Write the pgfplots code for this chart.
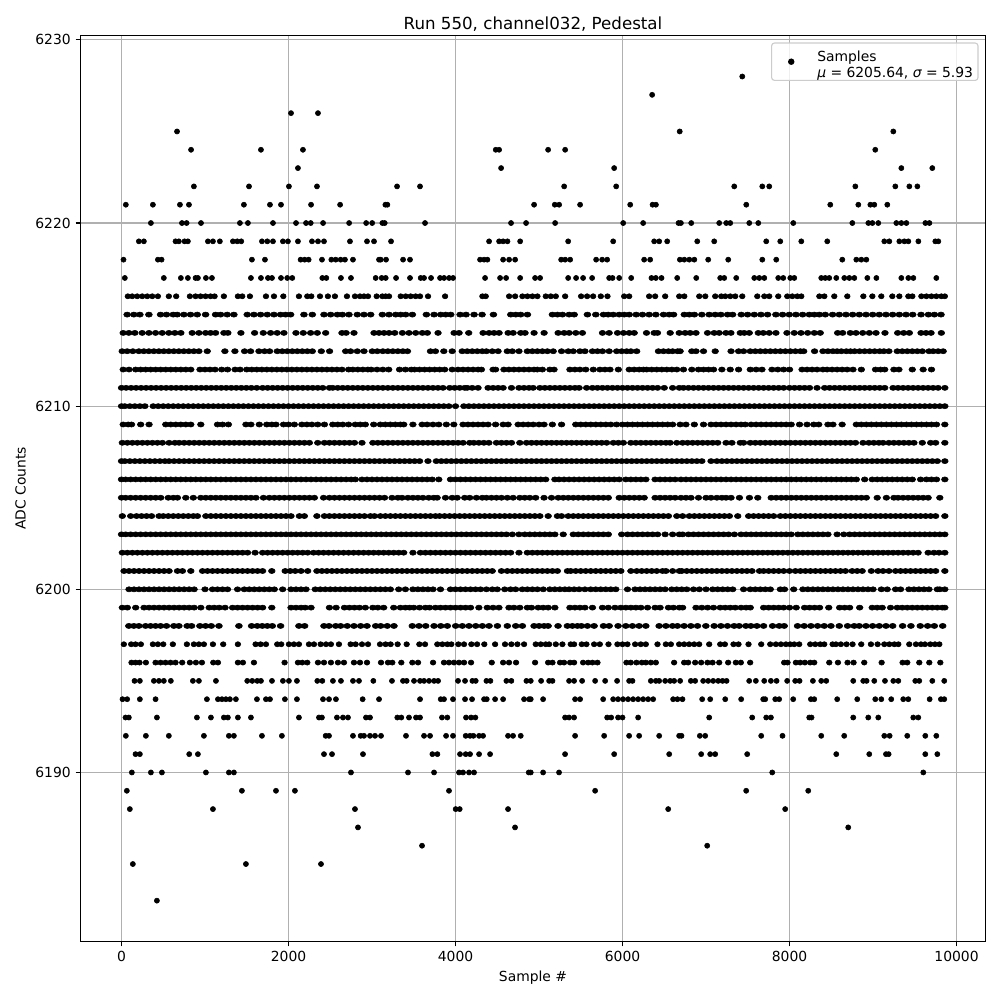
\documentclass[border=0pt]{standalone}
\usepackage{fontspec}
\setmainfont{DejaVu Sans}
\usepackage{pgfplots}
\pgfplotsset{compat=1.18}

\definecolor{gridgray}{HTML}{B0B0B0}
\definecolor{legendgray}{HTML}{CCCCCC}

% one row of samples at one ADC value: \samples[mark stretch]{adc}{sample numbers}
\newcommand{\samples}[3][1]{%
  \def\pts{}%
  \foreach \s in {#3}{\xdef\pts{\pts(\s,#2)}}%
  \edef\next{\noexpand\addplot[forget plot,only marks,mark=*,mark size=1.85pt,black,mark options={xscale=#1}] coordinates {\pts};}%
  \next}

\begin{document}
\begin{tikzpicture}
\path[use as bounding box] (-57.96pt,-42.12pt) rectangle (662.04pt,677.88pt);
\begin{axis}[
    scale only axis,
    width=651.6pt, height=652.32pt,
    xmin=-491, xmax=10347, ymin=6180.77, ymax=6230.24,
    xtick={0,2000,4000,6000,8000,10000},
    ytick={6190,6200,6210,6220,6230},
    scaled ticks=false,
    tick align=outside, tick pos=left,
    major tick length=3.5pt,
    tick style={black, line width=0.8pt},
    axis line style={black, line width=0.8pt},
    grid=major,
    grid style={gridgray, line width=0.8pt},
    /pgf/number format/assume math mode=true,
    /pgf/number format/1000 sep={},
    ticklabel style={font=\fontsize{10}{12}\selectfont},
    title={Run 550, channel032, Pedestal},
    title style={font=\fontsize{12}{14}\selectfont, yshift=-6.5pt},
    xlabel={Sample \#},
    ylabel={ADC Counts},
    label style={font=\fontsize{10}{12}\selectfont},
    legend cell align=left,
    legend style={at={(0.9923,0.9923)}, anchor=north east, draw=legendgray, rounded corners=2pt,
        fill=white, fill opacity=0.8, text opacity=1, line width=0.8pt,
        font=\fontsize{10}{12}\selectfont, inner xsep=3pt, inner ysep=5.2pt},
]
\addplot[only marks,mark=*,mark size=1.85pt,black,
    legend image code/.code={\path (-10.7pt,0pt) (16.34pt,0pt); \fill[black,fill opacity=1] (0pt,0pt) circle (1.9pt);}]
    coordinates {(7434,6228)};
\addlegendentry{\raisebox{-1pt}[11pt][11pt]{\begin{tabular}{@{}l@{\hspace{-1.44pt}}}Samples\\{\itshape μ} = 6205.64, {\itshape σ} = 5.93\end{tabular}}}

\samples{6227}{6355}
\samples{6226}{2030,2353}
\samples{6225}{665,6685,9243}
\samples{6224}{833,1670,2173,4482,4522,5109,5313,9027}
\samples{6223}{2113,4546,5900,9339,9710}
\samples{6222}{867,1527,2005,2341,3300,3575,5301,5924,7338,7674,7757,8788,9267,9435,9531}
\samples{6221}{52,376,700,808,1466,1778,1910,2270,2618,3160,3184,4941,5189,5241,5492,6092,6360,6400,7482,8488,8824,8968,9015,9171}
\samples{6220}{352,724,780,952,1418,1514,1814,2090,2210,2266,2414,2726,2930,3002,3124,3152,3635,4665,4845,5193,6008,6247,6671,6699,6823,7158,7242,7290,7518,7626,8045,8752,8944,8992,9063,9279,9339,9399,9627,9675}
\samples{6219}{208,268,647,687,755,795,1035,1095,1178,1334,1386,1434,1682,1746,1814,1933,1993,2113,2281,2353,2425,2736,2940,3024,3228,4402,4522,4570,4622,4774,5349,5888,6379,6439,6535,6895,7098,7721,7889,8141,8452,9135,9195,9315,9375,9423,9543,9746,9782}
\samples{6218}{24,436,480,1562,1718,2145,2193,2241,2401,2513,2565,2624,2676,2772,3084,3104,3168,3372,3455,4294,4342,4382,4570,4642,4714,5265,5313,5373,5684,5756,5816,6259,6331,6687,6740,6800,6860,7026,7266,7674,7841,8632,8800,8860,8920}
\samples{6217}{40,507,711,795,887,915,1011,1083,1550,1670,1754,1802,1910,1985,2045,2405,2453,2628,2748,3044,3116,3164,3288,3455,3583,3623,3707,3815,3863,3923,3971,4354,4534,4606,4774,4953,5013,5349,5444,5528,5636,5840,5880,5960,6104,6347,6399,6467,6655,6883,7170,7218,7362,7578,7638,7698,7865,7925,8009,8057,8380,8428,8476,8560,8656,8716,8776,8932,9040,9339,9423,9483,9758}
\samples[1.1]{6216}{76,128,188,248,308,368,436,567,655,819,887,947,1007,1067,1115,1226,1394,1446,1538,1730,1826,1938,2125,2225,2273,2377,2472,2556,2700,2796,2856,2904,2952,3056,3124,3164,3204,3344,3404,3463,3523,3575,3671,3875,4322,4362,4642,4714,4801,4861,4921,4981,5081,5141,5201,5313,5504,5576,5648,5740,5820,6020,6080,6319,6391,6511,6679,6740,6919,6991,7110,7182,7230,7290,7350,7434,7614,7698,7757,7865,7973,8033,8093,8141,8357,8417,8536,8692,8884,8992,9099,9231,9315,9423,9471,9579,9639,9699,9758,9818,9860}
\samples[1.35]{6215}{68,148,220,328,468,539,619,667,747,827,907,1007,1127,1187,1266,1346,1506,1586,1666,1746,1826,1905,1965,2025,2185,2285,2425,2505,2585,2645,2724,2824,2904,2984,3124,3204,3284,3344,3404,3483,3651,3743,3823,3883,3943,4055,4126,4222,4318,4454,4662,4722,4781,4861,5161,5221,5281,5361,5421,5580,5680,5772,5828,5888,5960,6020,6080,6163,6239,6319,6399,6491,6559,6611,6740,6800,6860,6950,7038,7110,7178,7258,7318,7422,7498,7578,7658,7737,7837,7917,7997,8077,8157,8237,8297,8357,8428,8516,8596,8676,8756,8836,8916,8996,9075,9155,9235,9315,9395,9475,9575,9663,9735,9814}
\samples[1.3]{6214}{20,88,160,248,328,408,488,567,639,711,847,927,1007,1067,1127,1226,1274,1430,1594,1698,1786,1865,1945,2089,2177,2265,2345,2445,2640,2690,2784,3024,3084,3144,3204,3272,3364,3443,3523,3603,3663,3791,3983,4043,4158,4330,4402,4462,4522,4630,4690,4781,4833,4941,5061,5229,5301,5361,5440,5520,5760,5840,5940,6012,6080,6140,6287,6379,6419,6571,6679,6750,6810,6880,7018,7098,7158,7238,7298,7410,7458,7518,7626,7686,7757,7837,7969,8057,8137,8217,8297,8368,8576,8636,8728,8796,8876,8956,9036,9143,9295,9367,9435,9575,9635,9695,9818}
\samples[1.3]{6213}{8,68,136,208,268,328,388,448,507,567,627,687,747,807,867,927,1027,1238,1358,1474,1546,1646,1714,1774,1865,1925,1985,2045,2105,2165,2225,2285,2393,2492,2684,2744,2824,2904,3003,3063,3130,3190,3250,3310,3370,3425,3700,3760,3860,3960,4080,4140,4200,4260,4320,4370,4440,4510,4620,4680,4760,4860,4920,4980,5040,5100,5170,5270,5350,5410,5490,5550,5640,5700,5760,5840,5930,5990,6050,6100,6170,6430,6490,6550,6600,6660,6690,6830,6880,6970,7110,7300,7390,7450,7530,7590,7650,7710,7770,7830,7890,7950,8010,8070,8130,8170,8300,8400,8460,8520,8570,8620,8680,8730,8780,8840,8900,8960,9020,9080,9130,9190,9290,9350,9410,9470,9530,9590,9670,9720,9780,9840}
\samples[1.3]{6212}{20,90,170,230,290,350,410,470,530,590,650,710,770,830,940,1000,1060,1120,1200,1270,1360,1420,1500,1560,1620,1680,1740,1800,1860,1920,1980,2040,2100,2160,2220,2280,2340,2400,2460,2520,2580,2640,2720,2770,2830,2890,2950,2990,3060,3130,3200,3330,3400,3470,3510,3570,3630,3690,3750,3810,3870,3960,4030,4090,4150,4210,4270,4310,4450,4480,4580,4640,4700,4760,4820,4880,4940,4980,5040,5130,5180,5370,5430,5490,5560,5650,5730,5790,5850,5950,6080,6140,6200,6250,6290,6350,6410,6470,6530,6590,6650,6730,6830,6910,6970,7030,7090,7190,7290,7390,7530,7600,7670,7790,7860,7930,8000,8150,8210,8270,8330,8400,8450,8510,8570,8630,8690,8760,8860,9030,9090,9140,9250,9310,9470,9600,9700}
\samples[1.3]{6211}{0,55,115,175,235,295,355,415,475,535,595,655,715,775,835,895,955,1015,1075,1135,1195,1255,1315,1375,1435,1495,1555,1620,1690,1750,1810,1870,1930,1990,2050,2110,2170,2230,2290,2350,2410,2490,2530,2590,2650,2710,2770,2830,2890,2950,3010,3070,3130,3190,3250,3310,3370,3430,3490,3550,3610,3670,3730,3790,3850,3930,3990,4050,4110,4140,4200,4270,4390,4450,4510,4570,4670,4760,4820,4880,4930,5010,5070,5130,5190,5250,5310,5370,5430,5480,5570,5640,5700,5760,5820,5880,5940,6000,6060,6120,6180,6240,6300,6360,6420,6500,6600,6680,6730,6790,6850,6910,6970,7030,7090,7150,7210,7270,7330,7390,7450,7510,7570,7630,7690,7750,7810,7870,7930,8000,8060,8120,8180,8240,8330,8420,8480,8540,8600,8660,8720,8780,8840,8900,8960,9020,9080,9140,9240,9300,9360,9420,9480,9540,9600,9660,9720,9780,9860}
\samples[1.3]{6210}{0,40,100,160,220,280,380,440,500,560,620,680,740,800,860,920,980,1040,1100,1160,1220,1280,1340,1400,1460,1520,1580,1640,1700,1760,1820,1880,1940,2000,2060,2120,2180,2240,2300,2360,2420,2480,2540,2600,2660,2720,2780,2840,2900,2960,3020,3080,3140,3200,3260,3320,3380,3440,3500,3560,3620,3680,3740,3800,3860,3920,4000,4100,4160,4220,4280,4340,4400,4460,4520,4580,4640,4700,4760,4820,4880,4940,5000,5060,5120,5180,5240,5300,5360,5420,5480,5540,5600,5660,5720,5780,5840,5900,5960,6020,6080,6140,6200,6260,6320,6380,6440,6500,6560,6620,6680,6740,6800,6860,6920,6980,7040,7100,7160,7220,7280,7340,7400,7460,7520,7580,7640,7700,7760,7820,7880,7940,8000,8060,8120,8180,8240,8300,8360,8420,8480,8540,8600,8660,8720,8780,8840,8900,8960,9020,9080,9140,9200,9260,9320,9380,9440,9500,9560,9620,9680,9740,9800,9860}
\samples[1.3]{6209}{20,80,120,230,330,530,590,650,710,770,830,950,1150,1210,1280,1490,1550,1650,1740,1800,1850,1940,2000,2070,2160,2220,2280,2350,2430,2530,2590,2650,2720,2800,2860,2920,3020,3100,3160,3220,3280,3340,3380,3490,3600,3660,3730,3800,3890,3980,4090,4150,4210,4270,4330,4390,4480,4570,4630,4750,4810,4870,4930,5000,5060,5160,5270,5440,5500,5560,5620,5680,5740,5800,5860,5930,6000,6060,6120,6180,6240,6300,6360,6420,6480,6540,6600,6690,6760,6860,6970,7060,7120,7180,7240,7300,7360,7420,7470,7540,7600,7660,7720,7780,7840,7900,7960,8020,8120,8210,8290,8350,8460,8520,8630,8800,8860,8920,8980,9040,9100,9160,9220,9280,9340,9400,9460,9520,9580,9640,9700,9760,9860}
\samples[1.3]{6208}{10,70,130,190,250,310,370,430,490,570,640,690,750,810,870,930,990,1050,1110,1170,1230,1290,1350,1410,1470,1530,1590,1650,1710,1770,1830,1890,1950,2010,2070,2130,2190,2250,2350,2430,2490,2550,2610,2670,2730,2790,2880,3010,3070,3130,3190,3250,3310,3370,3430,3490,3550,3610,3670,3730,3790,3850,3910,3970,4030,4090,4170,4220,4280,4340,4400,4490,4550,4610,4670,4770,4850,4910,4970,5030,5090,5150,5210,5270,5330,5390,5450,5510,5570,5630,5690,5750,5810,5890,5950,6010,6100,6160,6220,6280,6340,6400,6460,6520,6570,6650,6720,6780,6840,6900,6960,7020,7080,7140,7240,7310,7410,7450,7530,7590,7650,7710,7770,7830,7890,7950,8010,8070,8130,8190,8250,8310,8370,8430,8490,8550,8610,8670,8730,8790,8880,8950,9010,9070,9120,9190,9250,9310,9370,9430,9490,9590,9690,9750,9860}
\samples[1.3]{6207}{0,40,100,160,220,280,340,400,460,520,570,630,690,750,810,870,930,990,1050,1110,1170,1230,1290,1350,1410,1470,1530,1590,1650,1710,1770,1830,1890,1950,2010,2070,2130,2190,2250,2310,2370,2430,2490,2550,2610,2670,2730,2790,2850,2910,2970,3030,3090,3150,3210,3270,3330,3390,3450,3510,3570,3670,3770,3830,3890,3950,4010,4070,4130,4190,4250,4310,4370,4430,4490,4550,4610,4670,4730,4790,4850,4910,4970,5030,5090,5150,5210,5270,5330,5390,5450,5510,5570,5630,5690,5750,5810,5870,5930,5990,6050,6110,6170,6230,6290,6350,6410,6470,6530,6590,6650,6710,6770,6830,6890,6950,7060,7130,7190,7250,7310,7370,7430,7490,7550,7610,7670,7730,7790,7850,7910,7970,8030,8090,8150,8210,8270,8330,8390,8450,8510,8570,8630,8690,8750,8810,8870,8930,8990,9050,9110,9170,9230,9290,9350,9410,9470,9530,9590,9650,9710,9770,9860}
\samples[1.3]{6206}{0,50,110,170,230,290,350,410,470,530,590,650,710,770,830,890,950,1010,1070,1130,1190,1250,1310,1370,1430,1490,1550,1610,1670,1730,1790,1850,1910,1970,2030,2090,2150,2210,2270,2330,2390,2450,2510,2570,2630,2690,2750,2800,2880,2940,3000,3060,3120,3180,3240,3300,3360,3420,3480,3540,3600,3660,3720,3800,3940,4000,4060,4120,4180,4240,4300,4360,4420,4480,4540,4600,4660,4720,4780,4840,4900,4960,5020,5080,5190,5240,5300,5360,5420,5480,5540,5600,5660,5720,5780,5840,5900,5960,6040,6100,6160,6220,6280,6390,6450,6510,6570,6630,6700,6760,6820,6880,6940,7000,7060,7120,7180,7240,7300,7360,7420,7480,7540,7600,7660,7720,7780,7840,7900,7960,8020,8080,8140,8200,8260,8320,8380,8440,8500,8560,8620,8680,8740,8800,8900,8990,9050,9110,9170,9230,9290,9350,9410,9470,9570,9640,9700,9760,9860}
\samples[1.3]{6205}{0,50,110,170,230,290,350,410,470,560,620,670,770,860,950,1010,1070,1130,1190,1250,1310,1370,1430,1490,1550,1610,1700,1770,1830,1890,1950,2010,2070,2130,2190,2250,2310,2420,2490,2550,2610,2670,2730,2790,2850,2910,2970,3030,3090,3150,3240,3310,3360,3430,3490,3550,3610,3680,3740,3780,3880,3960,4020,4110,4170,4250,4320,4370,4430,4490,4550,4620,4690,4770,4830,4890,4960,5060,5150,5230,5290,5350,5410,5470,5530,5590,5650,5710,5770,5830,5960,6020,6080,6140,6200,6260,6390,6450,6510,6570,6630,6700,6760,6820,6910,7000,7060,7130,7190,7240,7300,7400,7520,7620,7780,7840,7900,7960,8020,8080,8140,8200,8260,8320,8380,8440,8500,8560,8620,8680,8740,8800,8860,8920,9050,9160,9250,9300,9360,9420,9480,9540,9600,9660,9800}
\samples[1.3]{6204}{10,110,180,240,300,360,450,500,560,620,680,740,800,860,910,1010,1070,1130,1190,1250,1310,1370,1430,1490,1550,1610,1670,1730,1790,1850,1910,1970,2030,2130,2190,2340,2430,2490,2550,2610,2670,2730,2790,2850,2910,2980,3030,3100,3160,3220,3280,3340,3400,3460,3520,3580,3640,3700,3760,3810,3870,3930,3990,4050,4110,4170,4230,4290,4350,4410,4470,4530,4590,4650,4710,4770,4830,4890,4950,5010,5110,5220,5270,5350,5410,5470,5530,5590,5650,5710,5770,5830,5890,5950,6010,6070,6130,6190,6250,6310,6370,6430,6490,6550,6650,6720,6800,6860,6920,6980,7040,7100,7160,7220,7280,7380,7510,7570,7630,7690,7750,7810,7890,7950,8010,8070,8130,8190,8250,8310,8370,8430,8490,8550,8610,8670,8730,8790,8850,8910,8970,9030,9090,9150,9210,9270,9330,9390,9450,9510,9570,9630,9690,9750,9860}
\samples[1.3]{6203}{0,50,110,170,230,290,350,410,470,530,590,650,710,770,830,890,950,1010,1070,1130,1190,1250,1310,1370,1430,1490,1550,1610,1670,1730,1790,1850,1910,1970,2030,2090,2150,2210,2270,2330,2390,2450,2510,2570,2630,2690,2750,2810,2870,2930,2990,3050,3110,3170,3230,3290,3350,3410,3470,3530,3590,3650,3710,3770,3830,3890,3950,4010,4070,4130,4190,4250,4310,4370,4430,4490,4550,4610,4680,4760,4830,4890,4950,5010,5070,5130,5190,5290,5410,5470,5530,5590,5650,5710,5770,5830,5990,6060,6120,6180,6240,6300,6360,6420,6510,6600,6680,6720,6790,6850,6910,6970,7030,7090,7150,7210,7270,7340,7420,7480,7540,7600,7660,7720,7780,7840,7900,7960,8020,8100,8160,8220,8280,8340,8400,8460,8570,8650,8720,8780,8840,8900,8960,9020,9080,9140,9200,9260,9320,9380,9440,9500,9560,9620,9680,9740,9800,9860}
\samples[1.3]{6202}{10,70,130,190,250,310,370,430,490,550,610,670,730,790,850,910,970,1030,1090,1150,1210,1270,1330,1390,1450,1510,1600,1690,1750,1810,1870,1930,1990,2050,2110,2170,2230,2300,2360,2420,2480,2540,2600,2660,2720,2780,2840,2900,2960,3020,3080,3140,3200,3260,3320,3380,3490,3580,3640,3700,3760,3820,3880,3940,4000,4060,4120,4180,4240,4300,4360,4420,4480,4540,4600,4660,4760,4860,4920,4980,5040,5100,5160,5220,5280,5340,5400,5460,5520,5580,5640,5700,5760,5820,5880,5940,6000,6060,6120,6180,6240,6300,6360,6420,6480,6540,6600,6660,6720,6780,6840,6900,6960,7020,7080,7140,7200,7260,7320,7380,7440,7500,7560,7620,7680,7740,7800,7860,7920,7980,8040,8100,8160,8220,8280,8340,8400,8460,8520,8580,8640,8700,8760,8820,8880,8940,9000,9060,9120,9180,9240,9300,9360,9420,9480,9540,9660,9730,9790,9860}
\samples[1.3]{6201}{30,90,150,210,270,330,390,450,510,570,670,730,830,970,1030,1090,1150,1210,1270,1330,1390,1450,1510,1570,1630,1690,1800,1960,2020,2080,2150,2230,2340,2400,2460,2520,2580,2640,2700,2760,2820,2880,2940,3000,3060,3120,3180,3240,3300,3360,3420,3480,3540,3600,3660,3720,3780,3840,3900,3960,4020,4080,4140,4200,4260,4320,4380,4440,4550,4620,4680,4740,4800,4860,4920,4980,5040,5100,5160,5220,5340,5380,5440,5500,5560,5620,5680,5740,5800,5860,5920,5980,6100,6170,6230,6290,6350,6410,6480,6520,6600,6680,6710,6770,6830,6890,6950,7010,7070,7130,7190,7250,7310,7370,7430,7490,7550,7640,7690,7750,7810,7870,7930,8000,8070,8130,8190,8250,8310,8370,8430,8490,8550,8610,8670,8750,8810,8870,8980,9060,9120,9190,9270,9330,9390,9450,9510,9570,9630,9690,9750,9860}
\samples[1.3]{6200}{90,150,210,270,330,390,450,510,570,630,690,750,810,870,1000,1090,1150,1210,1270,1390,1470,1530,1590,1650,1710,1770,1830,1930,2030,2090,2150,2210,2320,2380,2440,2500,2560,2620,2680,2740,2800,2860,2920,2980,3040,3100,3160,3220,3320,3400,3490,3550,3610,3670,3730,3820,3940,4000,4060,4120,4180,4240,4300,4370,4440,4500,4590,4660,4720,4800,4860,4920,4980,5050,5130,5190,5250,5310,5360,5420,5480,5550,5620,5680,5740,5800,5860,5920,6060,6150,6210,6270,6330,6390,6450,6510,6590,6650,6710,6770,6850,6920,7000,7080,7140,7200,7260,7320,7450,7530,7590,7650,7710,7770,7890,7940,8050,8160,8220,8280,8340,8400,8460,8520,8580,8640,8700,8760,8820,8880,8940,9000,9100,9170,9270,9330,9430,9490,9550,9610,9670,9770,9800,9860}
\samples[1.3]{6199}{10,70,170,270,330,390,450,510,570,630,690,750,810,870,950,1050,1110,1170,1240,1330,1390,1450,1510,1570,1630,1690,1800,2030,2090,2150,2200,2270,2490,2570,2670,2730,2790,2850,2920,3010,3070,3140,3260,3340,3400,3450,3500,3570,3640,3690,3760,3820,3880,3940,4000,4060,4120,4180,4280,4380,4450,4520,4640,4700,4770,4860,4910,4990,5050,5110,5190,5370,5430,5490,5550,5640,5760,5830,5910,5980,6040,6100,6160,6220,6300,6390,6450,6550,6610,6680,6720,6880,6950,7020,7090,7170,7230,7290,7350,7420,7480,7530,7690,7750,7810,7870,7930,8000,8080,8180,8240,8300,8360,8470,8600,8660,8720,8840,8990,9050,9110,9210,9290,9350,9410,9470,9530,9590,9650,9710,9770,9830,9860}
\samples[1.35]{6198}{88,148,208,288,348,408,468,539,627,687,787,839,939,1007,1075,1167,1406,1558,1626,1686,1746,1806,1905,2125,2193,2425,2485,2565,2624,2704,2784,2864,2940,3044,3104,3183,3263,3483,3563,3643,3743,3823,3902,4002,4082,4162,4242,4322,4402,4502,4621,4721,4801,4941,5001,5061,5109,5228,5340,5400,5460,5508,5580,5660,5772,5840,5947,6039,6119,6199,6279,6439,6519,6599,6658,6738,6818,6898,6998,7098,7178,7257,7337,7397,7477,7537,7609,7689,7797,7877,7936,8096,8176,8256,8336,8416,8496,8596,8695,8775,8835,8915,8995,9075,9155,9235,9354,9454,9566,9654,9734,9834}
\samples[1.1]{6197}{28,116,168,232,376,436,500,615,783,867,927,987,1095,1218,1394,1606,1666,1730,1865,1913,2005,2065,2125,2245,2305,2385,2449,2508,2604,2744,2804,2880,2952,3096,3163,3223,3307,3415,3567,3635,3782,3842,3902,3950,4034,4102,4190,4258,4345,4474,4593,4669,4741,4821,4961,5021,5081,5121,5201,5280,5380,5420,5512,5568,5660,5728,5832,5939,6000,6059,6151,6219,6279,6419,6519,6579,6678,6738,6798,6858,6918,7038,7170,7226,7329,7389,7509,7661,7769,7837,7897,7957,8008,8056,8116,8248,8308,8368,8416,8516,8556,8615,8683,8755,8859,8975,9055,9135,9195,9255,9303,9434,9514,9574,9622,9686,9742,9794}
\samples[1.1]{6196}{120,168,216,292,408,468,527,587,647,727,819,891,963,1099,1155,1394,1454,1586,1953,2113,2165,2225,2353,2425,2508,2592,2664,2784,2856,2940,3108,3191,3243,3351,3483,3551,3731,3862,3922,3982,4042,4102,4186,4434,4570,4641,4725,4953,5109,5161,5252,5300,5372,5420,5528,5588,5640,5700,6047,6099,6167,6231,6279,6339,6399,6618,6738,6786,6870,6942,7018,7078,7158,7265,7357,7417,7529,7936,7976,8076,8128,8184,8248,8296,8476,8580,8695,8767,8895,9103,9354,9410,9554,9674,9806}
\samples{6195}{156,220,388,448,507,591,855,927,1131,1506,1566,1626,1670,1802,1933,2005,2101,2345,2405,2532,2628,2772,2844,3016,3239,3371,3415,3503,3575,3623,3683,3743,3791,4030,4114,4202,4242,4370,4418,4609,4669,4849,4901,5025,5121,5161,5360,5420,5516,5672,5792,5935,6079,6119,6339,6399,6439,6511,6571,6618,6690,6818,6870,6966,7026,7086,7146,7198,7246,7517,7597,7697,7777,7845,7972,8068,8120,8280,8380,8440,8763,8883,8923,9015,9143,9243,9303,9506,9554,9710,9853}
\samples{6194}{12,68,220,408,1023,1155,1203,1250,1298,1370,1622,1730,1778,1957,2101,2413,2485,2568,2888,3084,3575,3823,3862,3970,4114,4198,4342,4374,4474,4570,4821,4881,4901,5049,5432,5492,5768,5888,5947,6007,6067,6127,6187,6247,6307,6367,6606,6658,6718,6954,7050,7230,7421,7685,7709,7829,7876,8044,8256,8296,8571,8811,9027,9099,9218,9362,9422,9678,9813,9853}
\samples{6193}{48,88,424,903,1071,1226,1274,1394,1550,2125,2365,2400,2580,2652,2712,2928,2976,3303,3351,3443,3527,3575,3838,3902,4126,4186,4238,5312,5360,5420,5816,5864,5947,6000,6187,7038,7553,7721,7777,8236,8264,8763,8943,9063,9482,9542}
\samples{6192}{52,292,567,987,1286,1346,1682,1921,2445,2485,2772,2864,2904,2976,3036,3108,3407,3623,3695,3887,3970,4122,4174,4214,4282,4330,4629,4689,4781,5432,5780,6079,6199,6439,6678,6706,6926,6990,7661,7916,8380,8655,9135,9199,9410,9626,9758}
\samples{6191}{168,220,811,915,2425,2521,2892,3723,3783,4054,4122,4174,4282,4414,5312,5900,6559,6942,7050,7110,7493,8560,8955,9155,9187,9626,9770}
\samples{6190}{124,352,484,1011,1286,1346,2748,3431,3743,4042,4090,4162,4222,4877,4901,5049,5240,7793,9602}
\samples{6189}{64,1442,1850,2077,3922,5672,7481,8224}
\samples{6188}{100,1095,2796,4002,4050,4629,6547,7948}
\samples{6187}{2832,4713,8703}
\samples{6186}{3599,7014}
\samples{6185}{136,1490,2389}
\samples{6183}{424}
\end{axis}
\end{tikzpicture}
\end{document}
